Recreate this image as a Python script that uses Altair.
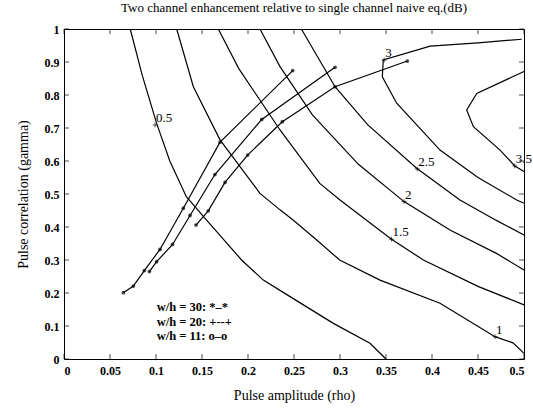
import altair as alt
import pandas as pd

# ---- contour lines (level, x, y) ----
c05_x = [0.072, 0.085, 0.1007, 0.115, 0.133, 0.155, 0.193, 0.2167, 0.2457, 0.2928, 0.3326, 0.35]
c05_y = [1.0, 0.86, 0.714, 0.60, 0.492, 0.421, 0.30, 0.239, 0.189, 0.108, 0.0475, 0.0]
c10_x = [0.1225, 0.1406, 0.1696, 0.213, 0.2348, 0.249, 0.275, 0.2996, 0.3435, 0.4087, 0.4685, 0.488, 0.5]
c10_y = [1.0, 0.825, 0.664, 0.502, 0.452, 0.421, 0.36, 0.30, 0.239, 0.169, 0.0676, 0.049, 0.017]
c15_x = [0.1677, 0.19, 0.2348, 0.278, 0.30, 0.356, 0.3906, 0.45, 0.5]
c15_y = [1.0, 0.88, 0.694, 0.532, 0.482, 0.363, 0.30, 0.22, 0.164]
c20_x = [0.213, 0.2348, 0.27, 0.32, 0.3696, 0.42, 0.47, 0.5]
c20_y = [1.0, 0.886, 0.74, 0.59, 0.477, 0.39, 0.32, 0.27]
c25_x = [0.258, 0.2946, 0.33, 0.3833, 0.4304, 0.47, 0.5]
c25_y = [1.0, 0.825, 0.71, 0.578, 0.482, 0.42, 0.376]
c30_x = [0.4975, 0.45, 0.398, 0.347, 0.346, 0.3616, 0.4087, 0.45, 0.492, 0.5]
c30_y = [0.969, 0.958, 0.948, 0.906, 0.855, 0.775, 0.633, 0.55, 0.482, 0.472]
c35_x = [0.5, 0.4486, 0.4377, 0.445, 0.474, 0.490, 0.5]
c35_y = [0.871, 0.805, 0.7545, 0.704, 0.633, 0.585, 0.568]

# contour label anchor points
lab_text = ["0.5", "1", "1.5", "2", "2.5", "3", "3.5"]
lab_x = [0.099, 0.4685, 0.356, 0.3696, 0.384, 0.348, 0.490]
lab_y = [0.709, 0.0676, 0.363, 0.477, 0.576, 0.906, 0.585]

# ---- the three w/h series ----
sA_x = [0.0645, 0.0754, 0.0873, 0.1043, 0.1297, 0.1696, 0.2486]
sA_y = [0.201, 0.221, 0.268, 0.332, 0.457, 0.657, 0.874]
sB_x = [0.0928, 0.1007, 0.118, 0.137, 0.164, 0.2149, 0.2946]
sB_y = [0.265, 0.295, 0.347, 0.435, 0.559, 0.726, 0.884]
sC_x = [0.1435, 0.1568, 0.175, 0.1996, 0.2373, 0.2946, 0.3732]
sC_y = [0.406, 0.449, 0.535, 0.618, 0.719, 0.825, 0.903]

legend_lines = ["w/h = 30:  *\u2013*", "w/h = 20:  +--+", "w/h = 11:  o\u2013o"]
legend_x = [0.1007, 0.1007, 0.1007]
legend_y = [0.157, 0.113, 0.071]

x_ticks = [0, 0.05, 0.1, 0.15, 0.2, 0.25, 0.3, 0.35, 0.4, 0.45, 0.5]
y_ticks = [0, 0.1, 0.2, 0.3, 0.4, 0.5, 0.6, 0.7, 0.8, 0.9, 1.0]

# ---- build tables ----
rows = []
for lvl, xs_, ys_ in [("0.5", c05_x, c05_y), ("1", c10_x, c10_y), ("1.5", c15_x, c15_y),
                      ("2", c20_x, c20_y), ("2.5", c25_x, c25_y), ("3", c30_x, c30_y),
                      ("3.5", c35_x, c35_y)]:
    for i, (a, b) in enumerate(zip(xs_, ys_)):
        rows.append({"level": lvl, "x": a, "y": b, "o": i})
contours = pd.DataFrame(rows)

srows = []
for name, xs_, ys_ in [("30", sA_x, sA_y), ("20", sB_x, sB_y), ("11", sC_x, sC_y)]:
    for i, (a, b) in enumerate(zip(xs_, ys_)):
        srows.append({"s": name, "x": a, "y": b, "o": i})
series = pd.DataFrame(srows)

labels = pd.DataFrame({"t": lab_text, "x": lab_x, "y": lab_y})
legend = pd.DataFrame({"t": legend_lines, "x": legend_x, "y": legend_y})
xt = pd.DataFrame({"v": x_ticks})
yt = pd.DataFrame({"v": y_ticks})

W, H = 460, 330
SERIF = "Liberation Serif"

xs = alt.Scale(domain=[0, 0.5], nice=False)
ys = alt.Scale(domain=[0, 1], nice=False)

xaxis = alt.Axis(values=x_ticks, format="~g", title="Pulse amplitude (rho)", ticks=False,
                 grid=False, labelPadding=6, titlePadding=12, labelOverlap=False)
yaxis = alt.Axis(values=y_ticks, format="~g", title="Pulse correlation (gamma)", ticks=False,
                 grid=False, labelPadding=5, titlePadding=14, labelOverlap=False)


def X(f):
    return alt.X(f, scale=xs, axis=xaxis)


def Y(f):
    return alt.Y(f, scale=ys, axis=yaxis)


base_c = alt.Chart(contours).mark_line(color="black", strokeWidth=1.2).encode(
    x=X("x:Q"), y=Y("y:Q"), detail="level:N", order="o:Q",
)

lines_s = alt.Chart(series).mark_line(color="black", strokeWidth=1.2).encode(
    x=X("x:Q"), y=Y("y:Q"), detail="s:N", order="o:Q"
)
pts_s = alt.Chart(series).mark_point(color="black", filled=True, size=14).encode(
    x=X("x:Q"), y=Y("y:Q")
)

lab_pts = alt.Chart(labels).mark_point(
    shape="M-1,0L1,0M0,-1L0,1", color="black", size=22, strokeWidth=1
).encode(x=X("x:Q"), y=Y("y:Q"))
lab_txt = alt.Chart(labels).mark_text(
    align="left", baseline="alphabetic", dx=1, dy=-3, font=SERIF, fontSize=13, color="black"
).encode(x=X("x:Q"), y=Y("y:Q"), text="t:N")

leg_txt = alt.Chart(legend).mark_text(
    align="left", baseline="middle", font=SERIF, fontSize=12.5, fontWeight="bold", color="black"
).encode(x=X("x:Q"), y=Y("y:Q"), text="t:N")

tick_b = alt.Chart(xt).mark_tick(color="black", size=5, thickness=1).encode(
    x=X("v:Q"), y=alt.value(H - 2.5))
tick_t = alt.Chart(xt).mark_tick(color="black", size=5, thickness=1).encode(
    x=X("v:Q"), y=alt.value(2.5))
tick_l = alt.Chart(yt).mark_tick(color="black", size=5, thickness=1).encode(
    y=Y("v:Q"), x=alt.value(2.5))
tick_r = alt.Chart(yt).mark_tick(color="black", size=5, thickness=1).encode(
    y=Y("v:Q"), x=alt.value(W - 2.5))

chart = alt.layer(
    base_c, lines_s, pts_s, lab_pts, lab_txt, leg_txt, tick_b, tick_t, tick_l, tick_r
).properties(
    width=W, height=H,
    title=alt.Title("Two channel enhancement relative to single channel naive eq.(dB)",
                    font=SERIF, fontSize=13, fontWeight="normal", offset=8),
    padding={"left": 64, "top": 29, "right": 9, "bottom": 52},
    autosize=alt.AutoSizeParams(type="none"),
).configure_view(
    stroke="black", strokeWidth=1
).configure_axis(
    domain=False, labelFont=SERIF, labelFontSize=12, labelFontWeight="bold",
    labelColor="black", titleFont=SERIF, titleFontSize=14, titleFontWeight="normal",
    titleColor="black"
)

chart.save("out.html", embed_options={"renderer": "svg", "actions": False})
